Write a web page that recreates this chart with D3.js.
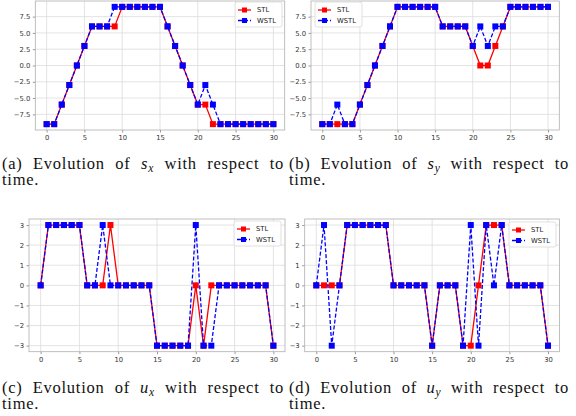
<!DOCTYPE html>
<html><head><meta charset="utf-8">
<script src="https://cdn.jsdelivr.net/npm/d3@7"></script>
<style>body{margin:0;background:#fff}svg{display:block}</style>
</head><body>
<svg id="c" width="576" height="416"></svg>
<script>
const timeSteps = d3.range(0, 31);
const xTicks = [0, 5, 10, 15, 20, 25, 30];
const posTicks = [-7.5, -5, -2.5, 0, 2.5, 5, 7.5];
const ctrlTicks = [-3, -2, -1, 0, 1, 2, 3];
const seriesNames = ["STL", "WSTL"];

const sxSTL  = [-9,-9,-6,-3,0,3,6,6,6,6,9,9,9,9,9,9,6,3,0,-3,-6,-6,-9,-9,-9,-9,-9,-9,-9,-9,-9];
const sxWSTL = [-9,-9,-6,-3,0,3,6,6,6,9,9,9,9,9,9,9,6,3,0,-3,-6,-3,-6,-9,-9,-9,-9,-9,-9,-9,-9];
const sySTL  = [-9,-9,-9,-9,-9,-6,-3,0,3,6,9,9,9,9,9,9,6,6,6,6,3,0,0,3,6,9,9,9,9,9,9];
const syWSTL = [-9,-9,-6,-9,-9,-6,-3,0,3,6,9,9,9,9,9,9,6,6,6,6,3,6,3,6,6,9,9,9,9,9,9];
const uxSTL  = [0,3,3,3,3,3,0,0,0,3,0,0,0,0,0,-3,-3,-3,-3,-3,0,-3,0,0,0,0,0,0,0,0,-3];
const uxWSTL = [0,3,3,3,3,3,0,0,3,0,0,0,0,0,0,-3,-3,-3,-3,-3,3,-3,-3,0,0,0,0,0,0,0,-3];
const uySTL  = [0,0,0,0,3,3,3,3,3,3,0,0,0,0,0,-3,0,0,0,-3,-3,0,3,3,3,0,0,0,0,0,-3];
const uyWSTL = [0,3,-3,0,3,3,3,3,3,3,0,0,0,0,0,-3,0,0,0,-3,3,-3,3,0,3,0,0,0,0,0,-3];

const captions = [
  {tag:"(a)", v:"s", sub:"x"},
  {tag:"(b)", v:"s", sub:"y"},
  {tag:"(c)", v:"u", sub:"x"},
  {tag:"(d)", v:"u", sub:"y"}
];

const svg = d3.select("#c");
const fmtPos = d => d3.format(".1f")(d).replace("-", "\u2212");
const fmtCtrl = d => d3.format("d")(d).replace("-", "\u2212");

function panel(cfg) {
  const x = d3.scaleLinear().domain([-1.5, 31.5]).range([cfg.l, cfg.r]);
  const y = d3.scaleLinear().domain(cfg.ydom).range([cfg.b, cfg.t]);
  const g = svg.append("g");
  g.append("g").selectAll("line").data(xTicks).join("line")
    .attr("x1", d => x(d)).attr("x2", d => x(d)).attr("y1", cfg.t).attr("y2", cfg.b)
    .attr("stroke", "#dcdcdc").attr("stroke-width", 0.8);
  g.append("g").selectAll("line").data(cfg.yticks).join("line")
    .attr("y1", d => y(d)).attr("y2", d => y(d)).attr("x1", cfg.l).attr("x2", cfg.r)
    .attr("stroke", "#dcdcdc").attr("stroke-width", 0.8);
  const xa = g.append("g").attr("transform", `translate(0,${cfg.b})`)
    .call(d3.axisBottom(x).tickValues(xTicks).tickSize(2.5).tickPadding(2.5).tickFormat(d3.format("d")));
  const ya = g.append("g").attr("transform", `translate(${cfg.l},0)`)
    .call(d3.axisLeft(y).tickValues(cfg.yticks).tickSize(2.5).tickPadding(2.5).tickFormat(cfg.fmt));
  [xa, ya].forEach(a => {
    a.select(".domain").remove();
    a.selectAll("line").attr("stroke", "#999");
    a.selectAll("text").attr("fill", "#333").style("font-family", "DejaVu Sans").style("font-size", "6.8px");
  });
  g.append("rect").attr("x", cfg.l).attr("y", cfg.t).attr("width", cfg.r - cfg.l).attr("height", cfg.b - cfg.t)
    .attr("fill", "none").attr("stroke", "#b0b0b0").attr("stroke-width", 0.8);
  const line = d3.line().x((d, i) => x(timeSteps[i])).y(d => y(d));
  const ms = 6;
  const series = [
    {vals: cfg.stl, color: "#ff0000", dash: null},
    {vals: cfg.wstl, color: "#0000ff", dash: "4,2"}
  ];
  series.forEach(s => {
    g.append("path").datum(s.vals).attr("d", line).attr("fill", "none")
      .attr("stroke", s.color).attr("stroke-width", 1.3).attr("stroke-dasharray", s.dash);
    g.append("g").selectAll("rect").data(s.vals).join("rect")
      .attr("x", (d, i) => x(timeSteps[i]) - ms / 2).attr("y", d => y(d) - ms / 2)
      .attr("width", ms).attr("height", ms).attr("fill", s.color);
  });
  const lg = g.append("g").attr("transform", `translate(${cfg.lx},${cfg.ly})`);
  lg.append("rect").attr("width", 47).attr("height", 25).attr("rx", 2)
    .attr("fill", "#fff").attr("fill-opacity", 0.85).attr("stroke", "#d8d8d8").attr("stroke-width", 0.8);
  seriesNames.forEach((n, i) => {
    const yy = 8 + i * 10.5;
    const s = series[i];
    lg.append("line").attr("x1", 3).attr("x2", 16).attr("y1", yy).attr("y2", yy)
      .attr("stroke", s.color).attr("stroke-width", 1.3).attr("stroke-dasharray", s.dash);
    lg.append("rect").attr("x", 9.5 - 2.5).attr("y", yy - 2.5).attr("width", 5).attr("height", 5).attr("fill", s.color);
    lg.append("text").attr("x", 22).attr("y", yy).attr("dy", "0.35em").text(n)
      .attr("fill", "#222").style("font-family", "DejaVu Sans").style("font-size", "6.8px");
  });
}

panel({l:35.3, r:284.7, t:1, b:130, ydom:[-9.9, 9.9], yticks:posTicks, fmt:fmtPos, stl:sxSTL, wstl:sxWSTL, lx:235, ly:2});
panel({l:311, r:559.3, t:1, b:130, ydom:[-9.9, 9.9], yticks:posTicks, fmt:fmtPos, stl:sySTL, wstl:syWSTL, lx:315, ly:2});
panel({l:29, r:285, t:219, b:351.7, ydom:[-3.3, 3.3], yticks:ctrlTicks, fmt:fmtCtrl, stl:uxSTL, wstl:uxWSTL, lx:234, ly:221});
panel({l:304.7, r:559.6, t:219, b:351.7, ydom:[-3.3, 3.3], yticks:ctrlTicks, fmt:fmtCtrl, stl:uySTL, wstl:uyWSTL, lx:509, ly:222});

// captions (line 1 justified to the column width, like the LaTeX subcaption)
const capPos = [[2, 169, 284], [289, 169, 569], [2, 393, 284], [289, 393, 569]];
const capFont = 16.5;
const capLS = 0.75;
captions.forEach((c, i) => {
  const [cx, cy, right] = capPos[i];
  const t = svg.append("text").attr("x", cx).attr("y", cy)
    .style("font-family", "Liberation Serif").style("font-size", capFont + "px")
    .style("letter-spacing", capLS + "px").attr("fill", "#111");
  t.append("tspan").text(c.tag + " Evolution of ");
  t.append("tspan").text(c.v).style("font-style", "italic");
  t.append("tspan").text(c.sub).style("font-style", "italic").style("font-size", "11.5px").attr("dy", 3);
  t.append("tspan").text(" with respect to").attr("dy", -3);
  const w = t.node().getComputedTextLength();
  const extra = Math.max(0, (right - cx - w) / 6);
  t.style("word-spacing", extra + "px");
  svg.append("text").attr("x", cx).attr("y", cy + 16).text("time.")
    .style("font-family", "Liberation Serif").style("font-size", capFont + "px")
    .style("letter-spacing", capLS + "px").attr("fill", "#111");
});
</script>
</body></html>
